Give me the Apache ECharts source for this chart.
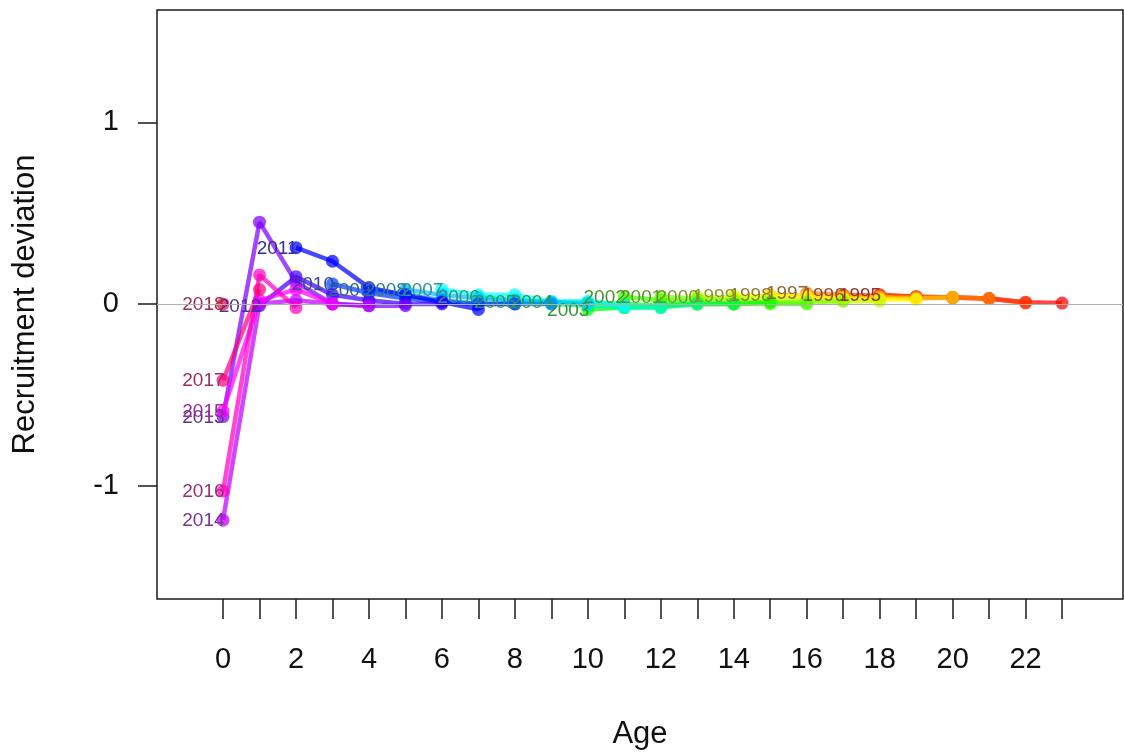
<!DOCTYPE html>
<html>
<head>
<meta charset="utf-8">
<script src="https://cdn.jsdelivr.net/npm/echarts@6/dist/echarts.min.js"></script>
<style>
html,body{margin:0;padding:0;background:#fff;}
#chart{width:1124px;height:755px;}
</style>
</head>
<body>
<div id="chart"></div>
<script>
// Cohort (birth) years, in plotting order
const cohorts = [1995,1996,1997,1998,1999,2000,2001,2002,2003,2004,2005,2006,2007,2008,2009,2010,2011,2012,2013,2014,2015,2016,2017,2018];
// Age of the first estimate for each cohort
const startAge = [18,17,16,15,14,13,12,11,10,9,8,7,6,5,4,3,2,1,0,0,0,0,0,0];

// Recruitment deviation estimates for each cohort (successive ages)
const dev1995 = [0.05, 0.04, 0.035, 0.03, 0.01, 0.005];
const dev1996 = [0.05, 0.045, 0.04, 0.035, 0.03, 0.005];
const dev1997 = [0.06, 0.05, 0.04, 0.035, 0.035, 0.03];
const dev1998 = [0.05, 0.045, 0.04, 0.035, 0.03, 0.035];
const dev1999 = [0.045, 0.045, 0.04, 0.03, 0.025, 0.025];
const dev2000 = [0.04, 0.035, 0.03, 0.02, 0.015, 0.015];
const dev2001 = [0.04, 0.03, 0.02, 0.01, 0.01, 0.015];
const dev2002 = [0.04, 0.02, 0.01, 0.0, 0.0, 0.0];
const dev2003 = [-0.03, -0.02, -0.01, 0.0, 0.0, 0.01];
const dev2004 = [0.01, 0.01, 0.0, -0.01, 0.0, 0.0];
const dev2005 = [0.01, 0.0, -0.01, -0.02, -0.02, 0.0];
const dev2006 = [0.04, 0.02, 0.01, 0.0, -0.02, -0.02];
const dev2007 = [0.08, 0.05, 0.05, 0.015, 0.015, -0.01];
const dev2008 = [0.08, 0.05, 0.03, 0.02, 0.01, 0.0];
const dev2009 = [0.08, 0.05, 0.02, 0.0, 0.0, 0.0];
const dev2010 = [0.11, 0.06, 0.03, 0.01, 0.0, 0.0];
const dev2011 = [0.31, 0.235, 0.09, 0.05, 0.01, -0.03];
const dev2012 = [-0.01, 0.15, 0.05, 0.02, 0.0, 0.0];
const dev2013 = [-0.62, 0.45, 0.12, 0.0, -0.01, -0.01];
const dev2014 = [-1.19, 0.0, 0.02, 0.0, -0.01];
const dev2015 = [-0.59, 0.02, 0.08, 0.0];
const dev2016 = [-1.03, 0.16, -0.02];
const dev2017 = [-0.42, 0.08];
const dev2018 = [0.0];

const devs = [dev1995,dev1996,dev1997,dev1998,dev1999,dev2000,dev2001,dev2002,dev2003,dev2004,dev2005,dev2006,
              dev2007,dev2008,dev2009,dev2010,dev2011,dev2012,dev2013,dev2014,dev2015,dev2016,dev2017,dev2018];

// Axis ticks / labels
const xTickValues = [0,1,2,3,4,5,6,7,8,9,10,11,12,13,14,15,16,17,18,19,20,21,22,23];
const xLabelValues = [0,2,4,6,8,10,12,14,16,18,20,22];
const yTickValues = [-1,0,1];

function hsvToRgb(h){ // s=1, v=1
  const c = 1, x = 1 - Math.abs((h*6) % 2 - 1);
  let r,g,b;
  const seg = Math.floor(h*6);
  if(seg===0){r=c;g=x;b=0;}
  else if(seg===1){r=x;g=c;b=0;}
  else if(seg===2){r=0;g=c;b=x;}
  else if(seg===3){r=0;g=x;b=c;}
  else if(seg===4){r=x;g=0;b=c;}
  else {r=c;g=0;b=x;}
  return [Math.round(r*255),Math.round(g*255),Math.round(b*255)];
}

const FONT = "'Liberation Sans', Arial, Helvetica, sans-serif";
const n = cohorts.length;
const series = cohorts.map((yr, i) => {
  const rgb = hsvToRgb(i / n);
  const col = `rgba(${rgb[0]},${rgb[1]},${rgb[2]},0.72)`;
  const t = rgb.map(v => Math.round(0.38*v + 0.62*80));
  const txt = `rgb(${t[0]},${t[1]},${t[2]})`;
  const data = devs[i].map((v, k) => {
    const item = { value: [startAge[i] + k, v] };
    if (k === 0) {
      item.label = {
        show: true, formatter: String(yr), position: 'left', distance: 0, offset: [8, 1],
        color: txt, fontSize: 19, fontFamily: FONT
      };
    }
    return item;
  });
  const s = {
    type: 'line',
    name: String(yr),
    data: data,
    symbol: 'circle',
    symbolSize: 13,
    showAllSymbol: true,
    lineStyle: { color: col, width: 4.5 },
    itemStyle: { color: col },
    label: { show: false },
    emphasis: { disabled: true },
    animation: false,
    z: 2
  };
  if (i === 0) {
    s.markLine = {
      silent: true, symbol: 'none', animation: false,
      label: { show: false },
      lineStyle: { color: '#b0b0b0', width: 1.2, type: 'solid' },
      data: [{ yAxis: 0 }]
    };
  }
  return s;
});

const chart = echarts.init(document.getElementById('chart'), null, { renderer: 'canvas' });
chart.setOption({
  backgroundColor: '#ffffff',
  animation: false,
  grid: {
    left: 157, right: 1, top: 10, bottom: 155,
    show: true, borderColor: '#1a1a1a', borderWidth: 1.5, backgroundColor: 'transparent'
  },
  xAxis: {
    type: 'value', min: -1.81, max: 24.67,
    name: 'Age', nameLocation: 'middle', nameGap: 120,
    nameTextStyle: { fontSize: 31, fontFamily: FONT, color: '#111' },
    axisLine: { show: false, onZero: false },
    splitLine: { show: false },
    axisTick: { show: true, customValues: xTickValues, length: 20, lineStyle: { color: '#1a1a1a', width: 1.5 } },
    axisLabel: { show: true, customValues: xLabelValues, margin: 46, fontSize: 29, fontFamily: FONT, color: '#111' }
  },
  yAxis: {
    type: 'value', min: -1.624, max: 1.618,
    name: 'Recruitment deviation', nameLocation: 'middle', nameGap: 116, nameRotate: 90,
    nameTextStyle: { fontSize: 31, fontFamily: FONT, color: '#111' },
    axisLine: { show: false, onZero: false },
    splitLine: { show: false },
    axisTick: { show: true, customValues: yTickValues, length: 19, lineStyle: { color: '#1a1a1a', width: 1.5 } },
    axisLabel: { show: true, customValues: yTickValues, margin: 38, fontSize: 29, fontFamily: FONT, color: '#111' }
  },
  series: series
});
</script>
</body>
</html>
